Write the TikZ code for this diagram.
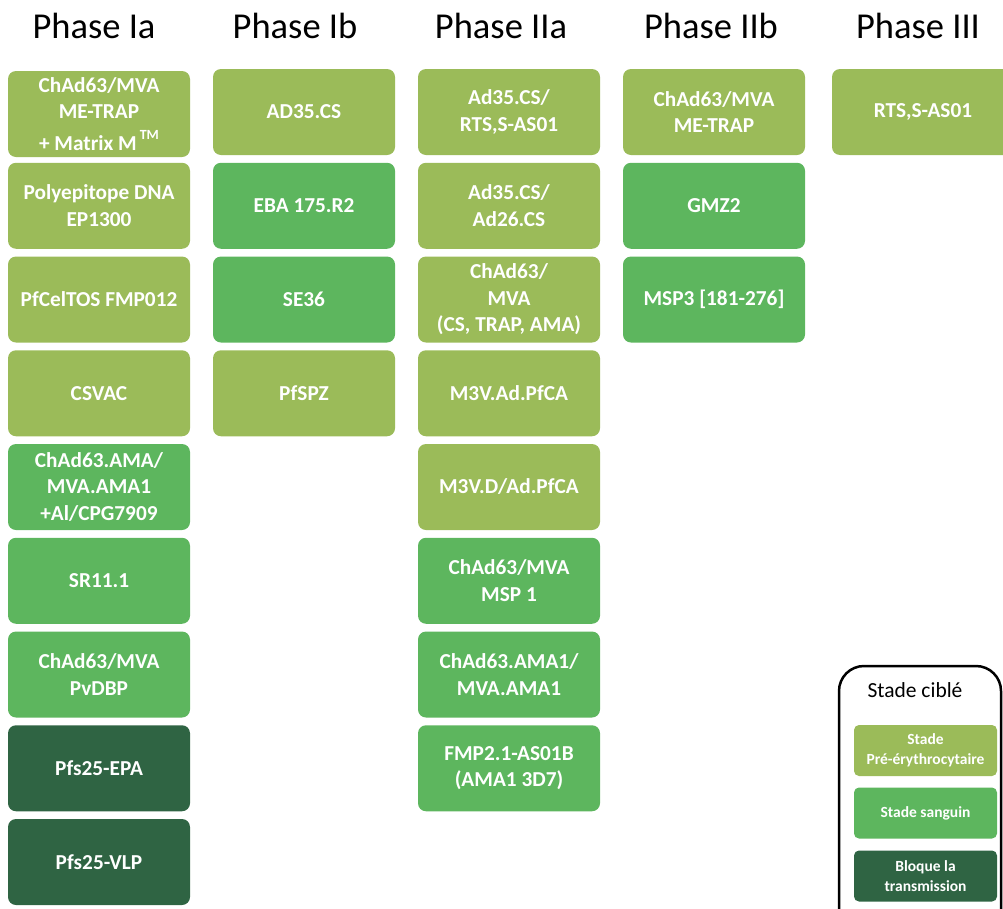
\documentclass[tikz,border=0pt]{standalone}
\usepackage{fontspec}
\setmainfont{Carlito}
\definecolor{olive}{HTML}{9BBB59}
\definecolor{midgreen}{HTML}{5DB65E}
\definecolor{darkgreen}{HTML}{2F6443}
\tikzset{
  vbox/.style={rounded corners=8pt, minimum width=182pt, minimum height=86pt, inner sep=0pt, text=white, align=center,
    font=\bfseries\fontsize{21.3}{26.5}\selectfont},
  pre/.style={vbox, fill=olive},
  blood/.style={vbox, fill=midgreen},
  trans/.style={vbox, fill=darkgreen},
  title/.style={font=\fontsize{36.5}{40}\selectfont, anchor=base},
  legbox/.style={rounded corners=5pt, minimum width=143pt, minimum height=51pt, inner sep=0pt, text=white, align=center,
    font=\bfseries\fontsize{15.5}{20}\selectfont}
}
\begin{document}
\begin{tikzpicture}[x=1pt,y=-1pt]
\useasboundingbox (0,0) rectangle (1003,908);
\clip (0,0) rectangle (1003,908);
% titles
\node[title] (t1) at (94,38) {Phase Ia};
\node[title] (t2) at (295,38) {Phase Ib};
\node[title] (t3) at (501,38) {Phase IIa};
\node[title] (t4) at (711,38) {Phase IIb};
\node[title] (t5) at (918,38) {Phase III};
% Phase Ia
\node[pre] (a1) at (99,114) {ChAd63/MVA\\ME-TRAP\\[5pt]+ Matrix M\hspace{3pt}\raisebox{11pt}{\fontsize{14}{14}\selectfont TM}};
\node[pre] (a2) at (99,205.75) {Polyepitope DNA\\EP1300};
\node[pre] (a3) at (99,299.5) {PfCelTOS FMP012};
\node[pre] (a4) at (99,393.25) {CSVAC};
\node[blood] (a5) at (99,487) {ChAd63.AMA/\\MVA.AMA1\\+Al/CPG7909};
\node[blood] (a6) at (99,580.75) {SR11.1};
\node[blood] (a7) at (99,674.5) {ChAd63/MVA\\PvDBP};
\node[trans] (a8) at (99,768.25) {Pfs25-EPA};
\node[trans] (a9) at (99,862) {Pfs25-VLP};
% Phase Ib
\node[pre] (b1) at (304,112) {AD35.CS};
\node[blood] (b2) at (304,205.75) {EBA 175.R2};
\node[blood] (b3) at (304,299.5) {SE36};
\node[pre] (b4) at (304,393.25) {PfSPZ};
% Phase IIa
\node[pre] (c1) at (509,112) {Ad35.CS/\\RTS,S-AS01};
\node[pre] (c2) at (509,205.75) {Ad35.CS/\\Ad26.CS};
\node[pre] (c3) at (509,299.5) {ChAd63/\\MVA\\(CS, TRAP, AMA)};
\node[pre] (c4) at (509,393.25) {M3V.Ad.PfCA};
\node[pre] (c5) at (509,487) {M3V.D/Ad.PfCA};
\node[blood] (c6) at (509,580.75) {ChAd63/MVA\\MSP 1};
\node[blood] (c7) at (509,674.5) {ChAd63.AMA1/\\MVA.AMA1};
\node[blood] (c8) at (509,768.25) {FMP2.1-AS01B\\(AMA1 3D7)};
% Phase IIb
\node[pre] (d1) at (714,112) {ChAd63/MVA\\ME-TRAP};
\node[blood] (d2) at (714,205.75) {GMZ2};
\node[blood] (d3) at (714,299.5) {MSP3 [181-276]};
% Phase III
\node[pre] (e1) at (923,112) {RTS,S-AS01};
% legend
\draw[line width=2.5pt, rounded corners=25pt] (839,666) -- (1001,666) -- (1001,940) -- (839,940) -- cycle;
\node[font=\fontsize{21.5}{24}\selectfont, anchor=base] (lt) at (915,697) {Stade ciblé};
\node[legbox, fill=olive] (l1) at (925.5,750.5) {Stade\\Pré-érythrocytaire};
\node[legbox, fill=midgreen] (l2) at (925.5,813) {Stade sanguin};
\node[legbox, fill=darkgreen] (l3) at (925.5,876) {Bloque la\\transmission};
\end{tikzpicture}
\end{document}
